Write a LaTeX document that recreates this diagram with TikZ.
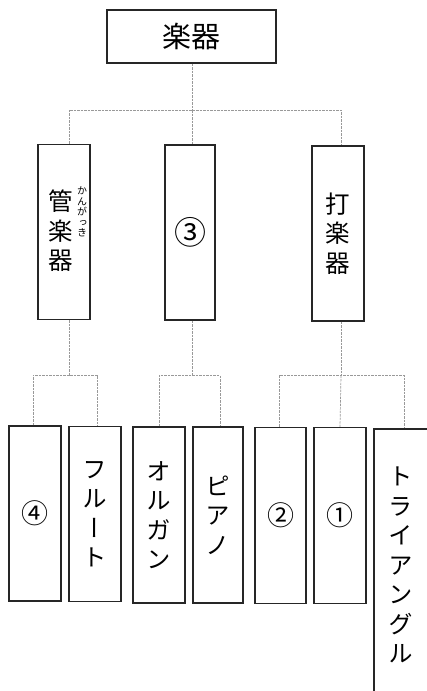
\documentclass[tikz,border=0pt]{standalone}
\usepackage{fontspec}
\setmainfont{Noto Sans CJK JP}
\newfontfamily\vjp[RawFeature=+vert]{Noto Sans CJK JP}
\begin{document}
\begin{tikzpicture}[x=1pt,y=-1pt,
  box/.style={draw=black!85, line width=1.3pt, inner sep=0pt, align=center, minimum width=52pt, minimum height=175pt},
  link/.style={draw=black!40, line width=0.7pt, dash pattern=on 2.5pt off 1pt},
  vt/.style={font=\fontsize{24.5}{29.5}\selectfont\vjp, align=center, inner sep=0pt},
  circ/.style={font=\fontsize{27}{27}\selectfont}]
\useasboundingbox (0,0) rectangle (426,691);
% top
\node[box, minimum width=169pt, minimum height=53pt, font=\fontsize{29}{29}\selectfont] (top) at (191.5,36.5) {楽器};
% middle row
\node[box] (kan) at (64,232) {};
\node[vt] (kant) at (61,231) {管\\楽\\器};
\node[font=\fontsize{10}{10.5}\selectfont\vjp, align=center, inner sep=0pt] (furi) at (82,212) {か\\ん\\が\\っ\\き};
\node[box, minimum width=50pt, font=\fontsize{32}{32}\selectfont] (san) at (190,232.5) {③};
\node[box, vt, minimum width=52pt, minimum height=175pt] (da) at (338,233.5) {打\\楽\\器};
% bottom row
\node[box, circ] (b1) at (35,513.5) {④};
\node[box, vt, minimum width=52pt, minimum height=175pt] (b2) at (95,514) {フ\\ル\\ー\\ト};
\node[box, vt, minimum width=52pt, minimum height=176pt] (b3) at (159,515) {オ\\ル\\ガ\\ン};
\node[box, vt, minimum width=50pt, minimum height=176pt] (b4) at (218,515) {ピ\\ア\\ノ};
\node[box, circ, minimum width=51pt, minimum height=176pt] (b5) at (280.5,515.5) {②};
\node[box, circ, minimum height=176pt] (b6) at (340,515.5) {①};
\node[box, vt, minimum width=54pt, minimum height=272pt] (b7) at (401,565) {ト\\ラ\\イ\\ア\\ン\\グ\\ル};
% connectors upper
\coordinate (jt) at (192,110);
\draw[link] (top.south -| jt) -- (jt);
\draw[link] ([xshift=5pt]kan.north) |- (jt) -| ([xshift=3pt]da.north);
\draw[link] (jt) -- ([xshift=2pt]san.north);
% connectors lower
\draw[link] ([xshift=5pt]kan.south) -- ++(0,55) coordinate (jl);
\draw[link] ([xshift=-2pt]b1.north) |- (jl) -| ([xshift=2pt]b2.north);
\draw[link] ([xshift=2pt]san.south) -- ++(0,55) coordinate (jm);
\draw[link] (b3.north) |- (jm) -| ([xshift=2pt]b4.north);
\draw[link] ([xshift=3pt]da.south) -- ++(0,54) coordinate (jr);
\draw[link] ([xshift=-1.5pt]b5.north) |- (jr) -| ([xshift=3pt]b7.north);
\draw[link] (jr) -- (b6.north);
\end{tikzpicture}
\end{document}
